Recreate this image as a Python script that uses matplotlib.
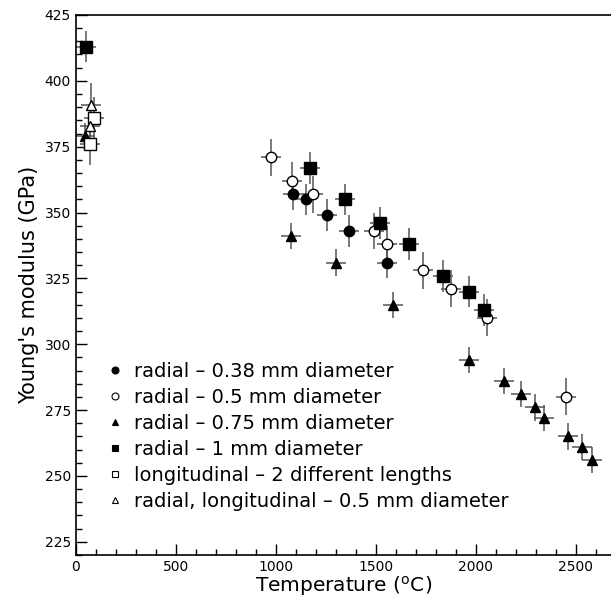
import matplotlib
matplotlib.use("Agg")
import matplotlib.pyplot as plt
from matplotlib.ticker import MultipleLocator

# radial - 0.38 mm (filled circles)
t_038 = [1087, 1150, 1257, 1365, 1557]
e_038 = [357, 355, 349, 343, 331]

# radial - 0.5 mm (open circles)
t_05 = [978, 1083, 1188, 1492, 1557, 1737, 1875, 2053, 2450]
e_05 = [371, 362, 357, 343, 338, 328, 321, 310, 280]

# radial - 0.75 mm (filled triangles)
t_075 = [48, 1078, 1302, 1587, 1967, 2142, 2223, 2295, 2342, 2458, 2532, 2582]
e_075 = [379, 341, 331, 315, 294, 286, 281, 276, 272, 265, 261, 256]

# radial - 1 mm (filled squares)
t_1 = [50, 1170, 1347, 1520, 1663, 1837, 1967, 2038]
e_1 = [413, 367, 355, 346, 338, 326, 320, 313]

# longitudinal - 2 lengths (open squares)
t_long = [73, 90]
e_long = [376, 386]

# radial, longitudinal - 0.5 mm (open triangles)
t_rl = [70, 78]
e_rl = [383, 391]

# error bars
dt = 50
de_038, de_05, de_075, de_1, de_long, de_rl = 6, 7, 5, 6, 8, 8

series = [
    (t_038, e_038, de_038, "o", "black", "radial \u2013 0.38 mm diameter"),
    (t_05, e_05, de_05, "o", "white", "radial \u2013 0.5 mm diameter"),
    (t_075, e_075, de_075, "^", "black", "radial \u2013 0.75 mm diameter"),
    (t_1, e_1, de_1, "s", "black", "radial \u2013 1 mm diameter"),
    (t_long, e_long, de_long, "s", "white", "longitudinal \u2013 2 different lengths"),
    (t_rl, e_rl, de_rl, "^", "white", "radial, longitudinal \u2013 0.5 mm diameter"),
]

fig = plt.figure(figsize=(6.11, 5.99), dpi=100)
ax = fig.add_axes([0.124, 0.0735, 0.876, 0.9015])

handles = []
for t, e, de, m, fc, lab in series:
    ax.errorbar(t, e, yerr=de, xerr=dt, fmt="none", ecolor="#555555",
                elinewidth=1.1, capsize=0, zorder=2)
    ax.plot(t, e, linestyle="none", marker=m, markersize=7.5 if m != "s" else 8,
            markerfacecolor=fc, markeredgecolor="black", markeredgewidth=1.0, zorder=3)
    h, = ax.plot([], [], linestyle="none", marker=m, markersize=5,
                 markerfacecolor=fc, markeredgecolor="black", markeredgewidth=0.8,
                 label=lab)
    handles.append(h)

ax.set_xlim(0, 2675)
ax.set_ylim(220, 425)
ax.xaxis.set_major_locator(MultipleLocator(500))
ax.xaxis.set_minor_locator(MultipleLocator(100))
ax.yaxis.set_major_locator(MultipleLocator(25))
ax.yaxis.set_minor_locator(MultipleLocator(5))
ax.tick_params(which="both", direction="in", labelsize=10, width=1.0)
ax.tick_params(which="major", length=8)
ax.tick_params(which="minor", length=4)
ax.spines["right"].set_visible(False)
for s in ["left", "bottom", "top"]:
    ax.spines[s].set_linewidth(1.2)

ax.set_xlabel("Temperature ($^{\\rm o}$C)", fontsize=14.5, labelpad=0)
ax.set_ylabel("Young's modulus (GPa)", fontsize=15, labelpad=4)

ax.legend(handles=handles, loc="upper left", bbox_to_anchor=(0.055, 0.357),
          frameon=False, fontsize=14, handletextpad=0.5, labelspacing=0.36,
          handlelength=1.0, borderaxespad=0, borderpad=0)

fig.savefig("out.png", dpi=100)
